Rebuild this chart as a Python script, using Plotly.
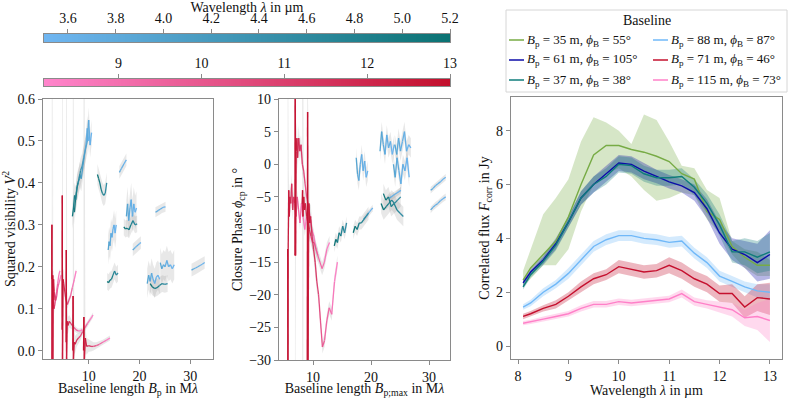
import numpy as np
import plotly.graph_objects as go
from plotly.colors import sample_colorscale

W, H = 793, 398
FONT = 'Liberation Serif, Times New Roman, Times, serif'

# --------------------------------------------------------------------------------
# Wavelength colour maps
L_SCALE = [[0, '#70b6f2'], [1, '#0a7272']]
N_SCALE = [[0, '#ff85cc'], [1, '#c20f2c']]
L_RANGE = [3.5, 5.2]
N_RANGE = [8.1, 13.0]
L_TICKS = [3.6, 3.8, 4.0, 4.2, 4.4, 4.6, 4.8, 5.0, 5.2]
N_TICKS = [9, 10, 11, 12, 13]

# --------------------------------------------------------------------------------
# Correlated flux (Jy) per baseline
lam_f = [8.1, 8.25, 8.5, 8.75, 9.0, 9.25, 9.5, 9.75, 10.0, 10.25, 10.5,
         10.75, 11.0, 11.25, 11.5, 11.75, 12.0, 12.25, 12.5, 12.75, 13.0]

f35 = [2.45, 2.9, 3.4, 3.9, 4.8, 6.0, 7.1, 7.45, 7.45, 7.3, 7.2, 7.05, 6.85, 6.4, 6.2, 5.0, 4.7, 3.7, 3.3, 3.0, 3.0]
f35_lo = [2.2, 2.5, 3.0, 3.0, 3.6, 5.0, 6.0, 6.4, 6.6, 6.3, 5.8, 5.4, 5.5, 5.7, 5.6, 4.7, 4.2, 3.4, 2.9, 2.6, 2.6]
f35_hi = [2.8, 3.6, 4.9, 5.5, 6.2, 7.6, 8.5, 8.3, 8.0, 7.5, 8.6, 8.4, 7.6, 6.7, 6.6, 5.8, 5.5, 3.9, 3.6, 3.5, 3.2]

f61 = [2.35, 2.75, 3.2, 3.8, 4.6, 5.5, 6.0, 6.4, 6.8, 6.75, 6.5, 6.3, 6.1, 5.95, 5.7, 5.1, 4.2, 3.6, 3.4, 3.1, 3.4]
e61 = [0.1, 0.1, 0.15, 0.2, 0.2, 0.25, 0.3, 0.3, 0.3, 0.3, 0.3, 0.25, 0.25, 0.25, 0.3, 0.35, 0.4, 0.4, 0.5, 0.7, 0.9]
f37 = [2.2, 2.65, 3.15, 3.75, 4.6, 5.5, 6.0, 6.3, 6.75, 6.7, 6.4, 6.25, 6.25, 6.3, 5.9, 5.3, 4.5, 3.5, 3.5, 3.3, 3.5]
e37 = [0.1, 0.1, 0.15, 0.2, 0.2, 0.25, 0.3, 0.3, 0.3, 0.3, 0.3, 0.3, 0.3, 0.3, 0.3, 0.35, 0.4, 0.4, 0.5, 0.6, 0.7]
f88 = [1.45, 1.6, 2.0, 2.3, 2.7, 3.2, 3.7, 3.95, 4.1, 4.1, 4.0, 3.95, 3.85, 3.9, 3.45, 3.1, 2.6, 2.4, 2.2, 2.05, 2.0]
e88 = [0.1, 0.12, 0.15, 0.15, 0.2, 0.2, 0.2, 0.2, 0.2, 0.2, 0.2, 0.2, 0.2, 0.2, 0.2, 0.2, 0.2, 0.2, 0.2, 0.25, 0.3]
f71 = [1.1, 1.2, 1.4, 1.55, 1.85, 2.2, 2.5, 2.65, 2.95, 2.85, 2.75, 2.8, 3.0, 2.8, 2.5, 2.3, 1.95, 1.95, 1.45, 1.8, 1.75]
e71 = [0.1, 0.1, 0.12, 0.15, 0.15, 0.2, 0.2, 0.2, 0.25, 0.25, 0.25, 0.25, 0.3, 0.3, 0.3, 0.3, 0.3, 0.35, 0.4, 0.5, 0.6]
f115 = [0.85, 0.9, 1.0, 1.1, 1.2, 1.4, 1.55, 1.55, 1.65, 1.6, 1.65, 1.7, 1.75, 1.95, 1.65, 1.55, 1.45, 1.35, 1.05, 1.1, 0.95]
e115 = [0.08, 0.08, 0.1, 0.1, 0.1, 0.12, 0.12, 0.12, 0.12, 0.12, 0.12, 0.12, 0.12, 0.15, 0.15, 0.15, 0.2, 0.25, 0.3, 0.5, 0.8]

# --------------------------------------------------------------------------------
# Squared visibility, N band (one curve per baseline in m)
lam_n = [12.8, 12.7, 12.6, 12.3, 12.0, 11.5, 11.0, 10.5, 10.0, 9.5, 9.0, 8.5, 8.1]
err_v2n = [1.0, 1.0, 1.0, 0.03, 0.02, 0.015, 0.012, 0.01, 0.008, 0.007, 0.006, 0.006, 0.006]
v2n_35 = [0.17, 0.30, -0.03, 0.17, 0.15, 0.12, 0.10, 0.11, 0.13, 0.14, 0.16, 0.18, 0.19]
v2n_37 = [0.10, 0.18, -0.03, 0.16, 0.17, 0.14, 0.12, 0.12, 0.13, 0.15, 0.16, 0.17, 0.18]
v2n_61 = [0.05, 0.37, -0.03, 0.17, 0.16, 0.14, 0.12, 0.11, 0.12, 0.13, 0.15, 0.17, 0.19]
v2n_71 = [0.02, 0.24, -0.03, 0.07, 0.06, 0.07, 0.065, 0.06, 0.055, 0.05, 0.047, 0.047, 0.05]
v2n_88 = [0.0, 0.13, -0.03, 0.02, 0.015, 0.025, 0.03, 0.035, 0.045, 0.055, 0.065, 0.075, 0.085]
v2n_115 = [0.0, 0.08, -0.03, 0.03, 0.01, 0.012, 0.01, 0.01, 0.012, 0.015, 0.02, 0.025, 0.03]

# Squared visibility, L/M band segments
lam_l = [3.9, 3.85, 3.8, 3.75, 3.7, 3.65, 3.6, 3.55, 3.5]
lam_m = [5.2, 5.1, 5.0, 4.9, 4.8, 4.7, 4.6, 4.5]
lam_lm = [5.15, 5.0, 4.85, 4.7, 4.55, 4.4, 4.25, 4.1, 3.95, 3.8, 3.7, 3.6, 3.5]
v2l_35 = [0.32, 0.34, 0.37, 0.36, 0.39, 0.40, 0.42, 0.41, 0.44, 0.47, 0.49, 0.53, 0.50]
v2l_37 = [0.33, 0.36, 0.38, 0.40, 0.41, 0.43, 0.44, 0.46, 0.48, 0.50, 0.55, 0.49, 0.52]
v2m_61 = [0.42, 0.41, 0.40, 0.385, 0.375, 0.37, 0.375, 0.40]
v2l_54 = [0.24, 0.26, 0.25, 0.28, 0.27, 0.29, 0.30, 0.28, 0.30]
v2m_71 = [0.165, 0.162, 0.168, 0.17, 0.18, 0.19, 0.18, 0.185]
v2l_61 = [0.425, 0.43, 0.435, 0.44, 0.445, 0.45, 0.455]
v2m_88 = [0.295, 0.29, 0.292, 0.288, 0.30, 0.31, 0.30, 0.302]
v2l_68 = [0.32, 0.35, 0.31, 0.34, 0.36, 0.32, 0.35, 0.33, 0.34]
v2l_71 = [0.24, 0.243, 0.246, 0.249, 0.252, 0.255, 0.258]
v2l_84 = [0.16, 0.18, 0.165, 0.185, 0.17, 0.16, 0.175, 0.18, 0.17]
v2m_115 = [0.16, 0.152, 0.148, 0.15, 0.155, 0.16, 0.158, 0.16]
v2l_94 = [0.21, 0.195, 0.205, 0.20, 0.215, 0.20, 0.205, 0.195, 0.205]
v2l_88 = [0.33, 0.332, 0.335, 0.337, 0.34, 0.342, 0.343]
v2l_115 = [0.192, 0.195, 0.197, 0.20, 0.203, 0.206, 0.21]

# --------------------------------------------------------------------------------
# Closure phase (deg), N band, one curve per triangle (longest baseline in m)
lam_cp = [12.8, 12.7, 12.6, 12.4, 12.2, 12.0, 11.7, 11.4, 11.1, 10.8,
          10.5, 10.2, 9.9, 9.6, 9.3, 9.0, 8.7, 8.4, 8.1]
err_cpn = [40, 40, 40, 3, 2.5, 2, 2, 1.5, 1.5, 1.5, 1.2, 1.2, 1, 1, 1, 1, 1, 1, 1]
cpn_72 = [-13, -35, -13, -4, -8, -5, -6, -3, -7, -5, -6, -8, -5, -7, -9, -6, -8, -10, -8]
cpn_88 = [-14, 14, -14, 2, 4, 1, 4, 2, 3, 0, -1, -3, -5, -6, -8, -10, -11, -13, -14]
cpn_104 = [-6, -4, -8, -5, -7, -6, -8, -9, -10, -11, -12, -12, -13, -14, -15, -16, -15, -13, -12]
cpn_115 = [-35, 8, -30, -6, -9, -8, -11, -13, -15, -18, -20, -24, -28, -27, -24, -22, -23, -18, -15]

# Closure phase, L/M band segments
cpm_71 = [-12.5, -11.5, -12, -10.5, -11, -9.5, -10.5, -9]
cpm_88 = [-10.5, -9.5, -10, -9, -9, -8.5, -8, -7.5]
cpl_71 = [-8.5, -8.2, -8, -7.6, -7.3, -7, -6.7]
cpl_68 = [1, -1.5, -2.5, 0, 1.5, -1, 0.5, -2, -1]
cpl_84 = [2, 5, 3, 1.5, 4.5, 2.5, 3.5, 1.5, 3]
cpl_94 = [3, 1.5, 4, 2, 3.5, 5, 2, 3, 2.5]
cpl_93 = [0, -2, 1, -1, -3, 0, -1, 1, -2]
cpm_115 = [-4.5, -5.5, -5, -6.5, -6, -7, -7.5, -8]
cpm_113 = [-6, -7, -6.5, -6, -5.5, -6, -5.5, -5]
cpl_88 = [-5.2, -5.0, -4.8, -4.6, -4.4, -4.2, -4.0]
cpl_115a = [-4, -3.7, -3.3, -3.0, -2.7, -2.3, -2]
cpl_115b = [-7, -6.6, -6.3, -6.0, -5.6, -5.3, -5]

# --------------------------------------------------------------------------------
# Segment lists: (baseline, wavelengths, values, error, band)
v2_segments = [
    (35, lam_n, v2n_35, err_v2n, 'N'), (37, lam_n, v2n_37, err_v2n, 'N'),
    (61, lam_n, v2n_61, err_v2n, 'N'), (71, lam_n, v2n_71, err_v2n, 'N'),
    (88, lam_n, v2n_88, err_v2n, 'N'), (115, lam_n, v2n_115, err_v2n, 'N'),
    (35, lam_lm, v2l_35, 0.03, 'L'), (37, lam_lm, v2l_37, 0.03, 'L'),
    (61, lam_m, v2m_61, 0.025, 'L'), (54, lam_l, v2l_54, 0.035, 'L'),
    (71, lam_m, v2m_71, 0.02, 'L'), (61, lam_l[2:], v2l_61, 0.015, 'L'),
    (88, lam_m, v2m_88, 0.02, 'L'), (68, lam_l, v2l_68, 0.04, 'L'),
    (71, lam_l[2:], v2l_71, 0.015, 'L'), (84, lam_l, v2l_84, 0.035, 'L'),
    (115, lam_m, v2m_115, 0.02, 'L'), (94, lam_l, v2l_94, 0.035, 'L'),
    (88, lam_l[2:], v2l_88, 0.012, 'L'), (115, lam_l[2:], v2l_115, 0.015, 'L'),
]

cp_segments = [
    (72, lam_cp, cpn_72, err_cpn, 'N'), (88, lam_cp, cpn_88, err_cpn, 'N'),
    (104, lam_cp, cpn_104, err_cpn, 'N'), (115, lam_cp, cpn_115, err_cpn, 'N'),
    (71, lam_m, cpm_71, 1.0, 'L'), (88, lam_m, cpm_88, 1.0, 'L'),
    (71, lam_l[2:], cpl_71, 0.5, 'L'), (68, lam_l, cpl_68, 1.5, 'L'),
    (84, lam_l, cpl_84, 1.5, 'L'), (94, lam_l, cpl_94, 1.5, 'L'),
    (93, lam_l, cpl_93, 1.5, 'L'), (115, lam_m, cpm_115, 1.5, 'L'),
    (113, lam_m, cpm_113, 1.5, 'L'), (88, lam_l[2:], cpl_88, 0.5, 'L'),
    (115, lam_l[2:], cpl_115a, 0.5, 'L'), (115, lam_l[2:], cpl_115b, 0.5, 'L'),
]

baselines = [
    ('<i>B</i><sub>p</sub> = 35 m, <i>ϕ</i><sub>B</sub> = 55°', '#77ab45', f35, f35_lo, f35_hi),
    ('<i>B</i><sub>p</sub> = 61 m, <i>ϕ</i><sub>B</sub> = 105°', '#0c0ca8', f61,
     [a - b for a, b in zip(f61, e61)], [a + b for a, b in zip(f61, e61)]),
    ('<i>B</i><sub>p</sub> = 37 m, <i>ϕ</i><sub>B</sub> = 38°', '#0f7c7b', f37,
     [a - b for a, b in zip(f37, e37)], [a + b for a, b in zip(f37, e37)]),
    ('<i>B</i><sub>p</sub> = 88 m, <i>ϕ</i><sub>B</sub> = 87°', '#70b8f8', f88,
     [a - b for a, b in zip(f88, e88)], [a + b for a, b in zip(f88, e88)]),
    ('<i>B</i><sub>p</sub> = 71 m, <i>ϕ</i><sub>B</sub> = 46°', '#c5102e', f71,
     [a - b for a, b in zip(f71, e71)], [a + b for a, b in zip(f71, e71)]),
    ('<i>B</i><sub>p</sub> = 115 m, <i>ϕ</i><sub>B</sub> = 73°', '#ff80c8', f115,
     [a - b for a, b in zip(f115, e115)], [a + b for a, b in zip(f115, e115)]),
]

fig = go.Figure()
NB = 14


def rgba(hex_color, a):
    h = hex_color.lstrip('#')
    return 'rgba(%d,%d,%d,%.2f)' % (int(h[0:2], 16), int(h[2:4], 16), int(h[4:6], 16), a)


def add_panel(segments, xa, ya):
    # grey error bands first
    for B, lam, val, err, band in segments:
        x = [B / l for l in lam]
        e = err if isinstance(err, list) else [err] * len(val)
        hi = [v + d for v, d in zip(val, e)]
        lo = [v - d for v, d in zip(val, e)]
        fig.add_trace(go.Scatter(
            x=x + x[::-1], y=hi + lo[::-1], fill='toself', mode='lines',
            line=dict(width=0), fillcolor='rgba(140,140,140,0.2)',
            xaxis=xa, yaxis=ya, showlegend=False, hoverinfo='skip'))
    # line pieces grouped by wavelength colour
    pieces = {}
    for B, lam, val, err, band in segments:
        x = [B / l for l in lam]
        rng = L_RANGE if band == 'L' else N_RANGE
        for i in range(len(lam) - 1):
            t = ((lam[i] + lam[i + 1]) / 2 - rng[0]) / (rng[1] - rng[0])
            k = min(NB - 1, max(0, int(t * NB)))
            xs, ys = pieces.setdefault((band, k), ([], []))
            xs.extend([x[i], x[i + 1], None])
            ys.extend([val[i], val[i + 1], None])
    for (band, k), (xs, ys) in sorted(pieces.items()):
        scale = L_SCALE if band == 'L' else N_SCALE
        color = sample_colorscale(scale, (k + 0.5) / NB)[0]
        fig.add_trace(go.Scatter(
            x=xs, y=ys, mode='lines', line=dict(color=color, width=1.3),
            xaxis=xa, yaxis=ya, showlegend=False, hoverinfo='skip'))


add_panel(v2_segments, 'x', 'y')
add_panel(cp_segments, 'x2', 'y2')

# correlated flux: bands then lines
for name, color, f, lo, hi in baselines:
    fig.add_trace(go.Scatter(
        x=lam_f + lam_f[::-1], y=hi + lo[::-1], fill='toself', mode='lines',
        line=dict(width=0), fillcolor=rgba(color, 0.3),
        xaxis='x3', yaxis='y3', showlegend=False, hoverinfo='skip'))
for name, color, f, lo, hi in baselines:
    fig.add_trace(go.Scatter(
        x=lam_f, y=f, mode='lines', line=dict(color=color, width=1.4),
        xaxis='x3', yaxis='y3', showlegend=False, name=name))

# colour bars as heatmaps
cb_l = np.linspace(L_RANGE[0], L_RANGE[1], 200)
cb_n = np.linspace(N_RANGE[0], N_RANGE[1], 200)
fig.add_trace(go.Heatmap(z=[cb_l], x=cb_l, y=[0], colorscale=L_SCALE, showscale=False,
                         xaxis='x4', yaxis='y4', hoverinfo='skip'))
fig.add_trace(go.Heatmap(z=[cb_n], x=cb_n, y=[0], colorscale=N_SCALE, showscale=False,
                         xaxis='x5', yaxis='y5', hoverinfo='skip'))

# --------------------------------------------------------------------------------
# Layout
GRAY = '#8a8a8a'
TXT = dict(family=FONT, size=14, color='#111')


def ax(**kw):
    base = dict(showline=True, mirror=True, linecolor=GRAY, linewidth=1.2,
                ticks='outside', tickcolor=GRAY, ticklen=4, tickwidth=1,
                showgrid=False, zeroline=False, automargin=False,
                tickfont=TXT, title=dict(font=TXT, standoff=3))
    for k, v in kw.items():
        if k == 'title':
            base['title']['text'] = v
        else:
            base[k] = v
    return base


def dx(a, b):
    return [a / W, b / W]


def dy(top, bottom):
    return [1 - bottom / H, 1 - top / H]


layout = go.Layout(
    width=W, height=H, template='none',
    margin=dict(l=0, r=0, t=0, b=0, autoexpand=False),
    paper_bgcolor='white', plot_bgcolor='white',
    font=TXT,
    showlegend=False,
    xaxis=ax(domain=dx(43, 213), range=[1, 34.5], tickvals=[10, 20, 30], anchor='y',
             title='Baseline length <i>B</i><sub>p</sub> in M<i>λ</i>'),
    yaxis=ax(domain=dy(99, 359), range=[-0.02, 0.6], dtick=0.1, tickformat='.1f', anchor='x',
             title='Squared visibility <i>V</i><sup>2</sup>'),
    xaxis2=ax(domain=dx(279, 450), range=[4.13, 33.6], tickvals=[10, 20, 30], anchor='y2',
              title='Baseline length <i>B</i><sub>p;max</sub> in M<i>λ</i>'),
    yaxis2=ax(domain=dy(99, 360), range=[-30, 10], dtick=5, anchor='x2',
              title='Closure Phase <i>ϕ</i><sub>cp</sub> in °'),
    xaxis3=ax(domain=dx(511, 782), range=[7.86, 13.24], dtick=1, anchor='y3',
              title='Wavelength <i>λ</i> in µm'),
    yaxis3=ax(domain=dy(97, 359), range=[-0.48, 9.25], tickvals=[0, 2, 4, 6, 8], anchor='x3',
              title='Correlated flux <i>F</i><sub>corr</sub> in Jy'),
    xaxis4=ax(domain=dx(44, 450), range=L_RANGE, tickvals=L_TICKS,
              ticktext=['%.1f' % t for t in L_TICKS], side='top', anchor='y4',
              title='Wavelength <i>λ</i> in µm'),
    yaxis4=ax(domain=dy(34, 42), range=[-0.5, 0.5], ticks='', showticklabels=False, anchor='x4'),
    xaxis5=ax(domain=dx(44, 450), range=N_RANGE, tickvals=N_TICKS, side='top', anchor='y5'),
    yaxis5=ax(domain=dy(79, 86), range=[-0.5, 0.5], ticks='', showticklabels=False, anchor='x5'),
)

fig.update_layout(layout)

# --------------------------------------------------------------------------------
# Legend drawn by hand: two columns of three entries
LEG = dict(family=FONT, size=13, color='#111')
fig.add_shape(type='rect', xref='paper', yref='paper',
              x0=506 / W, x1=787 / W, y0=1 - 92 / H, y1=1 - 10 / H,
              line=dict(color='#d6d6d6', width=1), fillcolor='white', layer='below')
fig.add_annotation(text='Baseline', xref='paper', yref='paper', x=647 / W, y=1 - 21 / H,
                   showarrow=False, xanchor='center', yanchor='middle', font=TXT)
rows = [40, 60, 80]
cols = [(509, 525), (653, 669)]
for i, (name, color, *_rest) in enumerate(baselines):
    c = cols[i // 3]
    r = rows[i % 3]
    fig.add_shape(type='line', xref='paper', yref='paper',
                  x0=c[0] / W, x1=(c[0] + 15) / W, y0=1 - r / H, y1=1 - r / H,
                  line=dict(color=color, width=1.5))
    fig.add_annotation(text=name, xref='paper', yref='paper', x=c[1] / W, y=1 - r / H,
                       showarrow=False, xanchor='left', yanchor='middle', font=LEG)

fig.write_html('out.html', config={'displayModeBar': False},
               post_script="document.body.style.margin='0';"
                           "document.body.style.overflow='hidden';")
